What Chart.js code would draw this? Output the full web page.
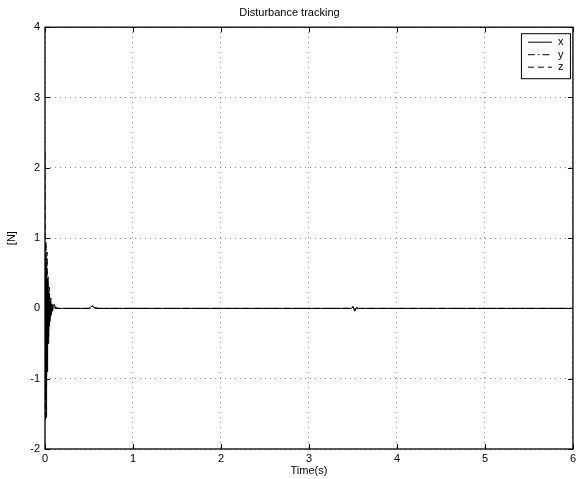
<!DOCTYPE html>
<html>
<head>
<meta charset="utf-8">
<script src="https://cdn.jsdelivr.net/npm/chart.js@4.4.0/dist/chart.umd.min.js"></script>
<style>
  html, body { margin: 0; padding: 0; background: #fff; }
  #wrap { width: 579px; height: 479px; }
</style>
</head>
<body>
<div id="wrap"><canvas id="c" width="579" height="479"></canvas></div>
<script>
// time points (s)
const times = [0, 0.005, 0.012, 0.018, 0.024, 0.03, 0.036, 0.042, 0.05, 0.058, 0.066, 0.074, 0.082, 0.092, 0.105, 0.12, 0.15, 0.2,
  0.5, 0.52, 0.54, 0.56, 0.6, 1, 2, 3, 3.48, 3.5, 3.52, 3.54, 3.56, 3.6, 4, 5, 6];
const xVals = [0, 0.75, -1.55, 0.55, -0.9, 0.35, -0.5, 0.2, -0.25, 0.1, -0.1, 0.05, -0.04, 0.03, 0.06, 0.01, 0, 0,
  0, 0.02, 0.04, 0.01, 0, 0, 0, 0, 0, 0.03, -0.04, 0.01, 0, 0, 0, 0, 0];
const yVals = [0, 0.9, -1.3, 0.7, -0.75, 0.45, -0.35, 0.25, -0.15, 0.12, -0.08, 0.06, -0.03, 0.02, 0.01, 0, 0, 0,
  0, 0.01, 0.03, 0.01, 0, 0, 0, 0, 0, 0.02, -0.03, 0.01, 0, 0, 0, 0, 0];
const zVals = [2.2, -1.6, 0.95, -1.1, 0.8, -0.45, 0.45, -0.4, 0.3, -0.2, 0.15, -0.08, 0.06, -0.03, 0.02, 0.01, 0, 0,
  0, 0.01, 0.02, 0.01, 0, 0, 0, 0, 0, 0.02, -0.03, 0.01, 0, 0, 0, 0, 0];
const xTicks = [0, 1, 2, 3, 4, 5, 6];
const yTicks = [-2, -1, 0, 1, 2, 3, 4];

const FONT = 'Liberation Sans, Arial, Helvetica, sans-serif';
const pts = vals => times.map((t, i) => ({ x: t, y: vals[i] }));

// box around the axes plus inward tick marks (matlab style)
const frame = {
  id: 'frame',
  afterDatasetsDraw(chart) {
    const { ctx, chartArea: a, scales } = chart;
    ctx.save();
    ctx.strokeStyle = '#000';
    ctx.lineWidth = 1;
    ctx.beginPath();
    xTicks.forEach(v => {
      const px = Math.round(scales.x.getPixelForValue(v)) + 0.5;
      ctx.moveTo(px, a.bottom); ctx.lineTo(px, a.bottom - 5);
      ctx.moveTo(px, a.top); ctx.lineTo(px, a.top + 5);
    });
    yTicks.forEach(v => {
      const py = Math.round(scales.y.getPixelForValue(v)) + 0.5;
      ctx.moveTo(a.left, py); ctx.lineTo(a.left + 5, py);
      ctx.moveTo(a.right, py); ctx.lineTo(a.right - 5, py);
    });
    ctx.stroke();
    ctx.lineWidth = 1.3;
    ctx.strokeRect(a.left, a.top, a.right - a.left, a.bottom - a.top);
    ctx.restore();
  }
};

// small legend box in the top right corner
const boxLegend = {
  id: 'boxLegend',
  afterDraw(chart) {
    const { ctx, chartArea: a } = chart;
    const w = 49, h = 45;
    const x0 = a.right - w - 3, y0 = a.top + 6;
    ctx.save();
    ctx.fillStyle = '#fff';
    ctx.fillRect(x0, y0, w, h);
    ctx.strokeStyle = '#000';
    ctx.lineWidth = 1;
    ctx.strokeRect(x0 + 0.5, y0 + 0.5, w, h);
    ctx.font = '11px ' + FONT;
    ctx.textBaseline = 'middle';
    ctx.fillStyle = '#000';
    chart.data.datasets.forEach((ds, i) => {
      const y = y0 + 9 + i * 12.5;
      ctx.setLineDash(ds.borderDash || []);
      ctx.beginPath();
      ctx.moveTo(x0 + 7, y);
      ctx.lineTo(x0 + 31, y);
      ctx.stroke();
      ctx.setLineDash([]);
      ctx.fillText(ds.label, x0 + 37, y);
    });
    ctx.restore();
  }
};

new Chart(document.getElementById('c'), {
  type: 'line',
  data: {
    datasets: [
      { label: 'x', data: pts(xVals), borderColor: '#000', borderWidth: 1, borderDash: [] },
      { label: 'y', data: pts(yVals), borderColor: '#000', borderWidth: 1, borderDash: [7, 3, 1.5, 3] },
      { label: 'z', data: pts(zVals), borderColor: '#000', borderWidth: 1, borderDash: [6, 4] }
    ]
  },
  options: {
    responsive: false,
    animation: false,
    events: [],
    layout: { padding: { left: 0, right: 0, top: 0, bottom: 0 } },
    elements: { point: { radius: 0 }, line: { tension: 0 } },
    plugins: {
      legend: { display: false },
      tooltip: { enabled: false },
      title: {
        display: true,
        text: 'Disturbance tracking',
        color: '#000',
        font: { family: FONT, size: 11, weight: 'normal' },
        padding: { top: 6, bottom: 8 }
      }
    },
    scales: {
      x: {
        type: 'linear',
        min: 0, max: 6,
        afterBuildTicks: s => { s.ticks = xTicks.map(v => ({ value: v })); },
        afterFit: s => { s.height = 30; },
        ticks: { color: '#000', font: { family: FONT, size: 11 }, padding: 3, maxRotation: 0 },
        grid: { color: '#333', lineWidth: 0.6, drawTicks: false },
        border: { display: false, dash: [1, 4] },
        title: { display: true, text: 'Time(s)', color: '#000', font: { family: FONT, size: 11 }, padding: { top: 0, bottom: 1 } }
      },
      y: {
        type: 'linear',
        min: -2, max: 4,
        afterBuildTicks: s => { s.ticks = yTicks.map(v => ({ value: v })); },
        afterFit: s => { s.width = 45; },
        ticks: { color: '#000', font: { family: FONT, size: 11 }, padding: 5 },
        grid: { color: '#333', lineWidth: 0.6, drawTicks: false },
        border: { display: false, dash: [1, 4] },
        title: { display: true, text: '[N]', color: '#000', font: { family: FONT, size: 11 }, padding: { top: 5, bottom: 0 } }
      }
    }
  },
  plugins: [frame, boxLegend]
});
</script>
</body>
</html>
